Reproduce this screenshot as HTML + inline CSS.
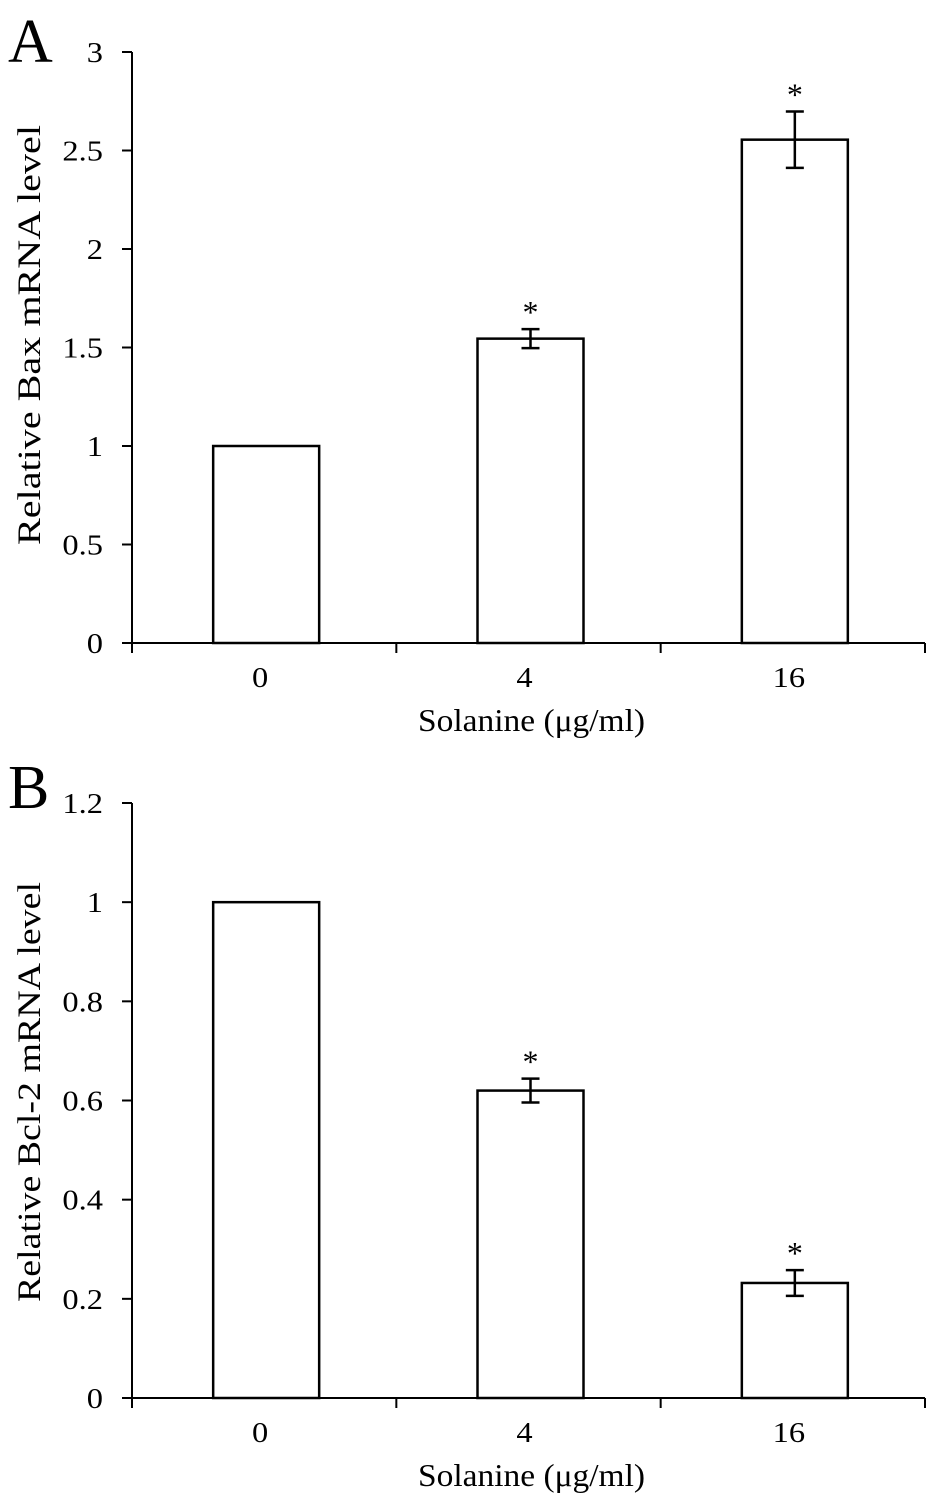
<!DOCTYPE html>
<html><head><meta charset="utf-8"><style>
body{margin:0;background:#fff}
svg{display:block;font-family:"Liberation Serif",serif}
</style></head><body>
<svg id="s" width="945" height="1505" xmlns="http://www.w3.org/2000/svg"></svg>
<script>
const categories=["0","4","16"];
const baxValues=[1,1.545,2.555];
const baxErrors=[0,0.048,0.143];
const baxSig=[false,true,true];
const baxTicks=[0,0.5,1,1.5,2,2.5,3];
const bclValues=[1,0.62,0.232];
const bclErrors=[0,0.024,0.026];
const bclSig=[false,true,true];
const bclTicks=[0,0.2,0.4,0.6,0.8,1,1.2];
const svg=document.getElementById('s');
const NS="http://www.w3.org/2000/svg";
function mk(t,a,txt){const e=document.createElementNS(NS,t);for(const k in a)e.setAttribute(k,a[k]);if(txt!==undefined)e.textContent=txt;svg.appendChild(e);return e;}
function chart(p){
  const x0=132,x1=925,band=(x1-x0)/categories.length,bw=106;
  const y=v=>p.y0-(v/p.ymax)*(p.y0-p.ytop);
  const xc=i=>x0+band*(i+0.5);
  let e=mk('text',{x:8,y:p.letterY,'font-size':62},p.letter);
  
  e=mk('line',{x1:x0,y1:p.ytop,x2:x0,y2:p.y0+1,stroke:'#000','stroke-width':2});
  
  e=mk('line',{x1:x0-10,y1:p.y0,x2:x1,y2:p.y0,stroke:'#000','stroke-width':2});
  
  p.ticks.forEach(t=>{
    e=mk('line',{x1:x0-10,y1:y(t),x2:x0,y2:y(t),stroke:'#000','stroke-width':2});
    
    e=mk('text',{x:0,y:0,'font-size':29,'text-anchor':'end',transform:`translate(${x0-29},${y(t)+10}) scale(1.12,1)`},String(t));
    
  });
  for(let i=0;i<=categories.length;i++){
    e=mk('line',{x1:x0+band*i,y1:p.y0,x2:x0+band*i,y2:p.y0+10,stroke:'#000','stroke-width':2});
    
  }
  categories.forEach((c,i)=>{
    const v=p.vals[i],er=p.errs[i],cx=xc(i);
    e=mk('rect',{x:cx-bw/2+2,y:y(v),width:bw,height:p.y0-y(v),fill:'#fff',stroke:'#000','stroke-width':2.5});
    
    if(er>0){
      const ex=cx+2;
      e=mk('path',{d:`M${ex},${y(v+er)}V${y(v-er)}M${ex-9},${y(v+er)}H${ex+9}M${ex-9},${y(v-er)}H${ex+9}`,stroke:'#000','stroke-width':2.5,fill:'none'});
      
    }
    if(p.sig[i]){
      e=mk('text',{x:cx+2,y:y(v+er)-6,'font-size':32,'text-anchor':'middle'},'*');
      
    }
    e=mk('text',{x:0,y:0,'font-size':29,'text-anchor':'middle',transform:`translate(${cx-4},${p.y0+44}) scale(1.12,1)`},c);
    
  });
  e=mk('text',{x:418,y:p.y0+88,'font-size':32,textLength:227,lengthAdjust:'spacingAndGlyphs'},'Solanine (μg/ml)');
  
  const cy=p.ylabCenter;
  e=mk('text',{x:40,y:cy,'font-size':33,'text-anchor':'middle',textLength:p.ylabLen,lengthAdjust:'spacingAndGlyphs',transform:`rotate(-90 40 ${cy})`},p.ylabel);
  
}
chart({letter:'A',letterY:62,y0:643,ytop:52,ymax:3,ticks:baxTicks,vals:baxValues,errs:baxErrors,sig:baxSig,ylabel:'Relative Bax mRNA level',ylabCenter:335,ylabLen:420});
chart({letter:'B',letterY:808,y0:1398,ytop:803,ymax:1.2,ticks:bclTicks,vals:bclValues,errs:bclErrors,sig:bclSig,ylabel:'Relative Bcl-2 mRNA level',ylabCenter:1092,ylabLen:420});
</script>
</body></html>
